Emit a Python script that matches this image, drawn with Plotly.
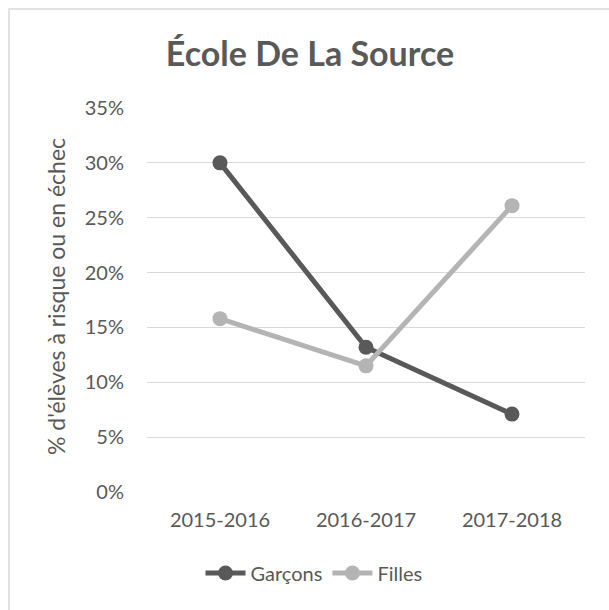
import plotly.graph_objects as go

categories = ["2015-2016", "2016-2017", "2017-2018"]
garcons = [0.30, 0.132, 0.071]
filles = [0.158, 0.115, 0.261]
y_ticks = [0, 0.05, 0.10, 0.15, 0.20, 0.25, 0.30, 0.35]

dark = "#595959"
light = "#B4B4B4"
text_col = "#595959"
font_fam = "Lato, Open Sans, sans-serif"

fig = go.Figure()
fig.add_trace(go.Scatter(x=categories, y=garcons, name="Garçons", mode="lines+markers",
                         line=dict(color=dark, width=5),
                         marker=dict(color=dark, size=15)))
fig.add_trace(go.Scatter(x=categories, y=filles, name="Filles", mode="lines+markers",
                         line=dict(color=light, width=5),
                         marker=dict(color=light, size=15)))

W, H = 609, 610
L, R, T, B = 147, 24, 108, 118
pw, ph = W - L - R, H - T - B

def px(x):
    return (x - L) / pw

def py(y):
    return (H - B - y) / ph

fig.update_layout(
    width=W, height=H,
    margin=dict(l=L, r=R, t=T, b=B, pad=0, autoexpand=False),
    paper_bgcolor="white", plot_bgcolor="white",
    font=dict(family=font_fam, color=text_col, size=20),
    title=dict(text="<b>École De La Source</b>", xref="container", yref="container",
               x=310 / W, xanchor="center", y=1 - 54 / H, yanchor="middle",
               font=dict(size=34, color=text_col, family=font_fam)),
    showlegend=True,
    legend=dict(orientation="h", x=px(314), xanchor="center", y=py(573), yanchor="middle",
                font=dict(size=20, color=text_col), itemwidth=40, bgcolor="rgba(0,0,0,0)"),
    xaxis=dict(range=[-0.5, 2.5], showgrid=False, showline=False, zeroline=False, ticks="",
               tickfont=dict(size=20, color=text_col), ticklabelstandoff=14, automargin=False),
    yaxis=dict(range=[0, 0.35], tickvals=y_ticks, tickformat=".0%",
               showgrid=True, gridcolor="#D9D9D9", gridwidth=1.3,
               zeroline=False, showline=False, ticks="", automargin=False,
               tickfont=dict(size=20, color=text_col), ticklabelstandoff=22),
)

fig.add_annotation(text="% d'élèves à risque ou en échec", textangle=-90,
                   xref="paper", yref="paper", x=px(56), y=py(297),
                   xanchor="center", yanchor="middle", showarrow=False,
                   font=dict(size=23, color=text_col, family=font_fam))

fig.add_shape(type="rect", xref="paper", yref="paper",
              x0=px(9), x1=px(640), y0=py(640), y1=py(9),
              line=dict(color="#D9D9D9", width=1.5), fillcolor="rgba(0,0,0,0)", layer="below")

fig.write_html("out.html", config={"displayModeBar": False},
               post_script="document.body.style.margin='0px';")
